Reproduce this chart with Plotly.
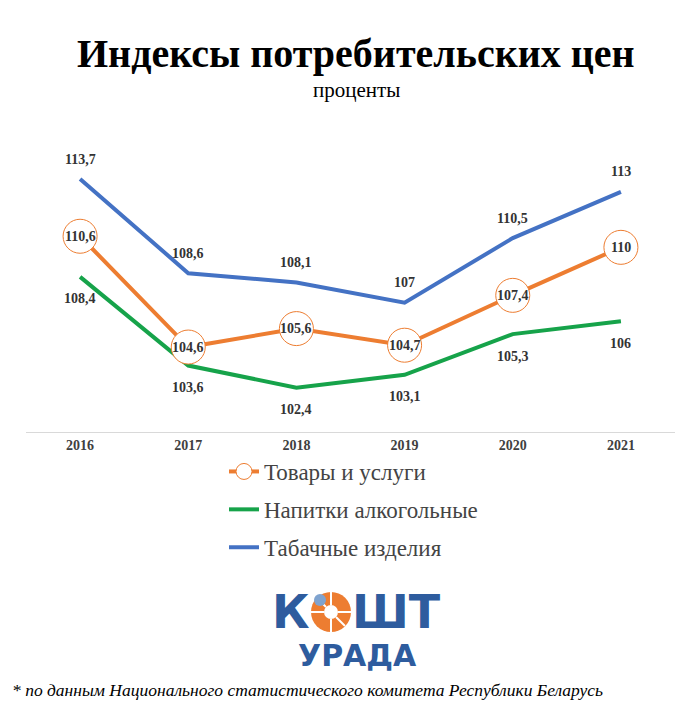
import plotly.graph_objects as go

years = [2016, 2017, 2018, 2019, 2020, 2021]
goods = [110.6, 104.6, 105.6, 104.7, 107.4, 110.0]
alcohol = [108.4, 103.6, 102.4, 103.1, 105.3, 106.0]
tobacco = [113.7, 108.6, 108.1, 107.0, 110.5, 113.0]

names = ['Товары и услуги', 'Напитки алкогольные', 'Табачные изделия']

colors = {
    'goods': '#ED7D31',
    'alcohol': '#16A34A',
    'tobacco': '#4472C4',
    'label': '#333333',
    'logo': '#2E5C9E',
}

SERIF = 'Liberation Serif, Times New Roman, serif'


def fmt(v):
    s = f'{v:.1f}'.replace('.', ',')
    return s[:-2] if s.endswith(',0') else s


# page pixel -> paper fraction (plot area spans x 26..675, y 155..432 on the page)
def px(x):
    return (x - 26) / 649


def py(y):
    return (432 - y) / 277


fig = go.Figure()

fig.add_trace(go.Scatter(
    x=years, y=alcohol, name=names[1], mode='lines', legendgroup='b',
    line=dict(color=colors['alcohol'], width=4), legendrank=2))
fig.add_trace(go.Scatter(
    x=years, y=tobacco, name=names[2], mode='lines', legendgroup='c',
    line=dict(color=colors['tobacco'], width=4), legendrank=3))
fig.add_trace(go.Scatter(
    x=years, y=goods, name=names[0], mode='lines+markers', legendgroup='a',
    line=dict(color=colors['goods'], width=4),
    marker=dict(size=34, color='white', line=dict(color=colors['goods'], width=1)),
    legendrank=1))

label_font = dict(family=SERIF, size=14, color=colors['label'])
for x, v in zip(years, goods):
    fig.add_annotation(x=x, y=v, text=f'<b>{fmt(v)}</b>', showarrow=False,
                       font=label_font)
for x, v in zip(years, tobacco):
    fig.add_annotation(x=x, y=v, text=f'<b>{fmt(v)}</b>', showarrow=False,
                       font=label_font, yshift=20)
for x, v in zip(years, alcohol):
    fig.add_annotation(x=x, y=v, text=f'<b>{fmt(v)}</b>', showarrow=False,
                       font=label_font, yshift=-22)


def note(x, y, text, font, xanchor='center'):
    fig.add_annotation(xref='paper', yref='paper', x=px(x), y=py(y),
                       xanchor=xanchor, yanchor='middle', text=text,
                       showarrow=False, font=font)


# title
note(356, 54, '<b>Индексы потребительских цен</b>',
     dict(family=SERIF, size=40, color='black'))
note(356, 90, 'проценты', dict(family=SERIF, size=21, color='black'))

# logo
logo_font = dict(family='DejaVu Sans', size=46, color=colors['logo'])
note(291, 612, '<b>К</b>', logo_font)
note(396, 612, '<b>ШТ</b>', logo_font)
note(357, 655, '<b>УРАДА</b>', dict(family='DejaVu Sans', size=30, color=colors['logo']))
fig.add_shape(type='circle', xref='paper', yref='paper',
              x0=px(311), x1=px(351), y0=py(632), y1=py(592),
              fillcolor=colors['goods'], line_width=0)
fig.add_shape(type='circle', xref='paper', yref='paper',
              x0=px(324), x1=px(338), y0=py(619), y1=py(605),
              fillcolor='white', line_width=0)
for a, b in [((331, 592), (331, 605)), ((311, 612), (324, 612)),
             ((331, 619), (331, 632)), ((338, 612), (351, 612)),
             ((317, 598), (326, 607)), ((336, 617), (345, 626))]:
    fig.add_shape(type='line', xref='paper', yref='paper',
                  x0=px(a[0]), y0=py(a[1]), x1=px(b[0]), y1=py(b[1]),
                  line=dict(color='white', width=2))
fig.add_shape(type='circle', xref='paper', yref='paper',
              x0=px(314), x1=px(326), y0=py(606), y1=py(594),
              fillcolor='#7FA3CF', line_width=0)

# footnote
note(10, 690, '<i>* по данным Национального статистического комитета Республики Беларусь</i>',
     dict(family=SERIF, size=17.5, color='black'), xanchor='left')

# the page body adds an 8px margin, so the figure is drawn 8px smaller/shifted
fig.update_layout(
    width=691, height=701,
    margin=dict(l=18, r=24, t=147, b=277, autoexpand=False),
    paper_bgcolor='white', plot_bgcolor='white',
    showlegend=True,
    legend=dict(x=px(224), xanchor='left', y=py(450), yanchor='top',
                tracegroupgap=5,
                font=dict(family=SERIF, size=23, color='#444444'),
                itemwidth=30),
)
fig.update_xaxes(range=[2015.5, 2021.5], showgrid=False, zeroline=False,
                 showline=True, linecolor='#D9D9D9', linewidth=1,
                 ticks='', tickfont=dict(family=SERIF, size=14, color='#404040'),
                 tickvals=years, ticktext=[f'<b>{y}</b>' for y in years])
fig.update_yaxes(range=[100, 115], visible=False, showgrid=False)

fig.write_html('out.html')
